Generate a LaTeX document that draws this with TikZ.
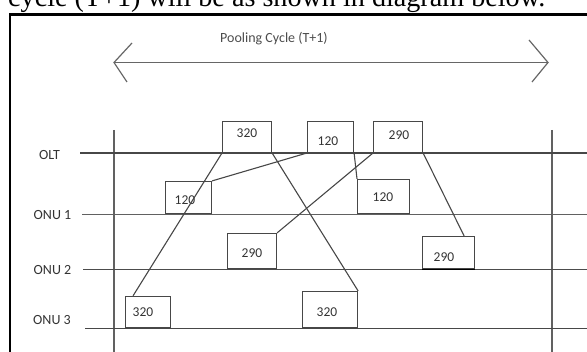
\documentclass[tikz,border=0pt]{standalone}
\usepackage{fontspec}
\usepackage{graphicx}
\setmainfont{Carlito}
\newfontfamily\serifline{Liberation Serif}
\begin{document}
\begin{tikzpicture}[x=1pt,y=-1pt,
  ln/.style={draw=black!72, line width=1.1pt},
  lane/.style={draw=black!62, line width=1.5pt},
  chev/.style={draw=black!60, line width=1.2pt},
  box/.style={draw=black!72, line width=1.1pt, anchor=south west, inner sep=0pt},
  num/.style={font=\fontsize{13.5}{14}\selectfont, text=black!80, inner sep=0pt},
  lbl/.style={font=\fontsize{14}{15}\selectfont, text=black!80, inner sep=0pt},
]
\useasboundingbox (0,0) rectangle (587,352);
\begin{scope}
\clip (0,0) rectangle (587,352);
% outer frame and cut-off sentence
\draw[line width=2.6pt] (10,14.5) rectangle (620,380);
\node[anchor=base west, inner sep=0pt] (topline) at (8,6.5) {\resizebox{537pt}{!}{\serifline cycle (T+1) will be as shown in diagram below.}};

% pooling cycle arrow
\node[lbl, text=black!70] (title) at (274,38.5) {Pooling Cycle (T+1)};
\coordinate (al) at (114,62.5);
\coordinate (ar) at (548,62.5);
\coordinate (alt) at (132,43);
\coordinate (alb) at (127,82);
\coordinate (art) at (529,40);
\coordinate (arb) at (532,82);
\draw[chev] (al) -- (ar);
\draw[chev] (alt) -- (al) -- (alb);
\draw[chev] (art) -- (ar) -- (arb);

% vertical boundaries
\coordinate (v1t) at (114,130);
\coordinate (v1b) at (114,352);
\coordinate (v2t) at (552,130);
\coordinate (v2b) at (552,352);
\draw[lane, line width=1.3pt] (v1t) -- (v1b);
\draw[lane, line width=1.3pt] (v2t) -- (v2b);

% lanes
\node[lbl] (olt) at (49.5,155) {OLT};
\node[lbl] (onu1) at (52.5,215) {ONU 1};
\node[lbl] (onu2) at (52.5,270) {ONU 2};
\node[lbl] (onu3) at (52,320) {ONU 3};
\coordinate (l0s) at (80,153);  \coordinate (l0e) at (587,153);
\coordinate (l1s) at (82,214.5);  \coordinate (l1e) at (587,214.5);
\coordinate (l2s) at (83,269.5);  \coordinate (l2e) at (587,269.5);
\coordinate (l3s) at (85,328.5);  \coordinate (l3e) at (587,328.5);
\draw[lane, draw=black!72] (l0s) -- (l0e);
\draw[lane] (l1s) -- (l1e);
\draw[lane, draw=black!70] (l2s) -- (l2e);
\draw[lane, draw=black!72] (l3s) -- (l3e);

% boxes
\node[box, minimum width=49pt, minimum height=31pt] (A) at (222,153) {};
\node[box, minimum width=46pt, minimum height=31pt] (B) at (307,153) {};
\node[box, minimum width=49pt, minimum height=31pt] (C) at (373,153) {};
\node[box, minimum width=46pt, minimum height=32.5pt] (D) at (165,214.5) {};
\node[box, minimum width=52pt, minimum height=34.5pt] (E) at (357,214.5) {};
\node[box, minimum width=49pt, minimum height=35.5pt] (F) at (227,269.5) {};
\node[box, minimum width=52pt, minimum height=32.5pt] (G) at (422,269.5) {};
\node[box, minimum width=45pt, minimum height=31.5pt] (H) at (125,328.5) {};
\node[box, minimum width=55pt, minimum height=36.5pt] (I) at (302,328.5) {};
\draw[line width=1.6pt] (G.south west) -- (G.south east);

% numbers
\node[num] (tA) at (247,133) {320};
\node[num] (tB) at (328,141) {120};
\node[num] (tC) at (399,135) {290};
\node[num] (tD) at (185,200) {120};
\node[num] (tE) at (383,197) {120};
\node[num] (tF) at (252,253) {290};
\node[num] (tG) at (444,257) {290};
\node[num] (tH) at (143,312) {320};
\node[num] (tI) at (327,312) {320};

% connectors
\draw[ln] (A.south west) -- ([xshift=8pt]H.north west);
\draw[ln] (A.south east) -- (I.north east);
\draw[ln] (B.south west) -- (D.north east);
\draw[ln] (B.south east) -- (E.north west);
\draw[ln] (C.south west) -- (F.north east);
\draw[ln] (C.south east) -- ([xshift=-11pt]G.north east);
\end{scope}
\end{tikzpicture}
\end{document}
